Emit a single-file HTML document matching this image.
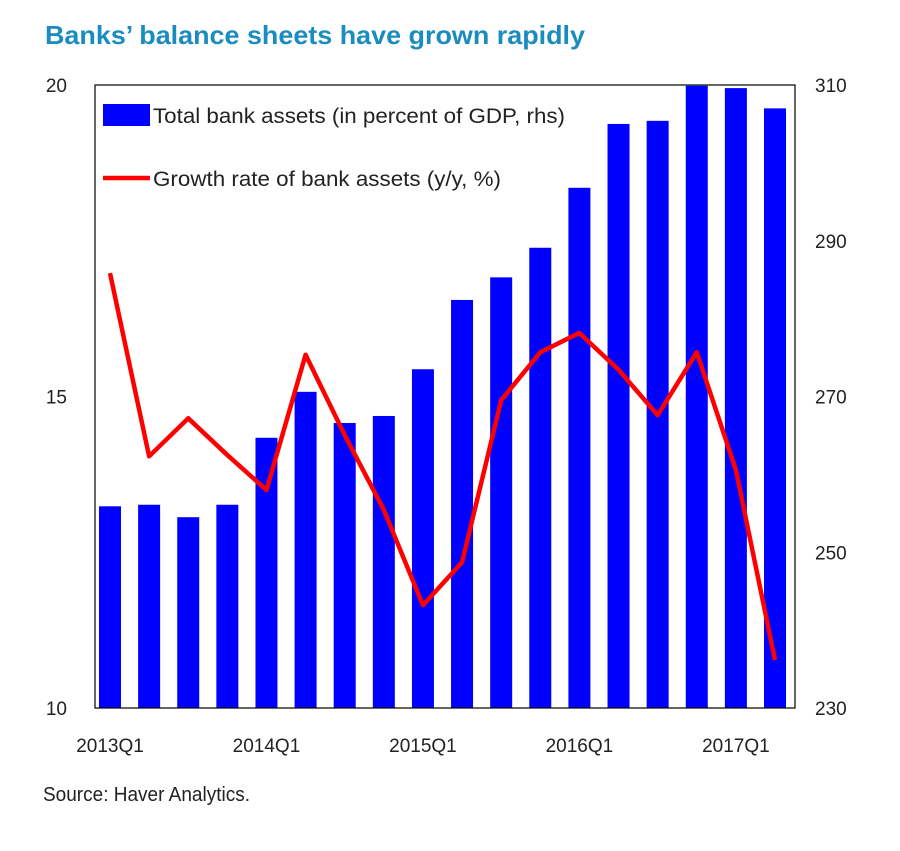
<!DOCTYPE html>
<html><head><meta charset="utf-8">
<style>
body{margin:0;background:#fff;width:900px;height:846px;overflow:hidden;font-family:"Liberation Sans",sans-serif;}
svg text{font-family:"Liberation Sans",sans-serif;}
</style></head>
<body>
<svg width="900" height="846">
<text x="45" y="44" font-size="26" font-weight="bold" fill="#1b8cbf" textLength="540" lengthAdjust="spacingAndGlyphs">Banks’ balance sheets have grown rapidly</text>
<g id="bars"></g>
<g id="axes"></g>
<path id="line" fill="none" stroke="#f00" stroke-width="4.5" stroke-linejoin="round"></path>
<g>
<rect x="103" y="104" width="47" height="22" fill="#0000ff"></rect>
<text x="153" y="123" font-size="21" fill="#222" textLength="412" lengthAdjust="spacingAndGlyphs">Total bank assets (in percent of GDP, rhs)</text>
<line x1="103" y1="178" x2="150" y2="178" stroke="#f00" stroke-width="4.5"></line>
<text x="153" y="186" font-size="21" fill="#222" textLength="348" lengthAdjust="spacingAndGlyphs">Growth rate of bank assets (y/y, %)</text>
</g>
<text x="43" y="801" font-size="20" fill="#222" textLength="207" lengthAdjust="spacingAndGlyphs">Source: Haver Analytics.</text>
</svg>
<script>
const categories=["2013Q1","2013Q2","2013Q3","2013Q4","2014Q1","2014Q2","2014Q3","2014Q4","2015Q1","2015Q2","2015Q3","2015Q4","2016Q1","2016Q2","2016Q3","2016Q4","2017Q1","2017Q2"];
const assetsPctGDP=[255.9,256.1,254.5,256.1,264.7,270.6,266.6,267.5,273.5,282.4,285.3,289.1,296.8,305.0,305.4,309.9,309.6,307.0];
const growthRate=[16.98,14.04,14.65,14.06,13.5,15.67,14.38,13.18,11.65,12.34,14.94,15.71,16.02,15.43,14.7,15.71,13.82,10.77];
const leftTicks=[10,15,20];
const rightTicks=[230,250,270,290,310];
const xLabels=["2013Q1","2014Q1","2015Q1","2016Q1","2017Q1"];

const ns="http://www.w3.org/2000/svg";
const L=95,R=795,T=85,B=708;
const step=665/(categories.length-1);
const xc=i=>110+i*step;
const yL=v=>B-(v-10)/10*(B-T);
const yR=v=>B-(v-230)/80*(B-T);
function mk(tag,attrs,parent){const e=document.createElementNS(ns,tag);for(const k in attrs)e.setAttribute(k,attrs[k]);parent.appendChild(e);return e;}
const bars=document.getElementById('bars');
assetsPctGDP.forEach((v,i)=>{
 const r=mk('rect',{x:xc(i)-11,y:yR(v),width:22,height:B-yR(v),fill:'#0000ff'},bars);
 
 
});
const ax=document.getElementById('axes');
const frame=mk('rect',{x:L,y:T,width:R-L,height:B-T,fill:'none',stroke:'#000','stroke-width':1.2},ax);


leftTicks.forEach(v=>{
 const t=mk('text',{x:L-28,y:yL(v)+7,'font-size':19,fill:'#222','text-anchor':'end'},ax);t.textContent=v;
 
 
});
rightTicks.forEach(v=>{
 const t=mk('text',{x:R+20,y:yR(v)+7,'font-size':19,fill:'#222'},ax);t.textContent=v;
 
 
});
xLabels.forEach(lab=>{
 const i=categories.indexOf(lab);
 const t=mk('text',{x:xc(i),y:752,'font-size':19,fill:'#222','text-anchor':'middle'},ax);t.textContent=lab;
 
 
});
document.getElementById('line').setAttribute('d',growthRate.map((v,i)=>(i?'L':'M')+xc(i)+','+yL(v)).join(' '));
</script>
</body></html>
